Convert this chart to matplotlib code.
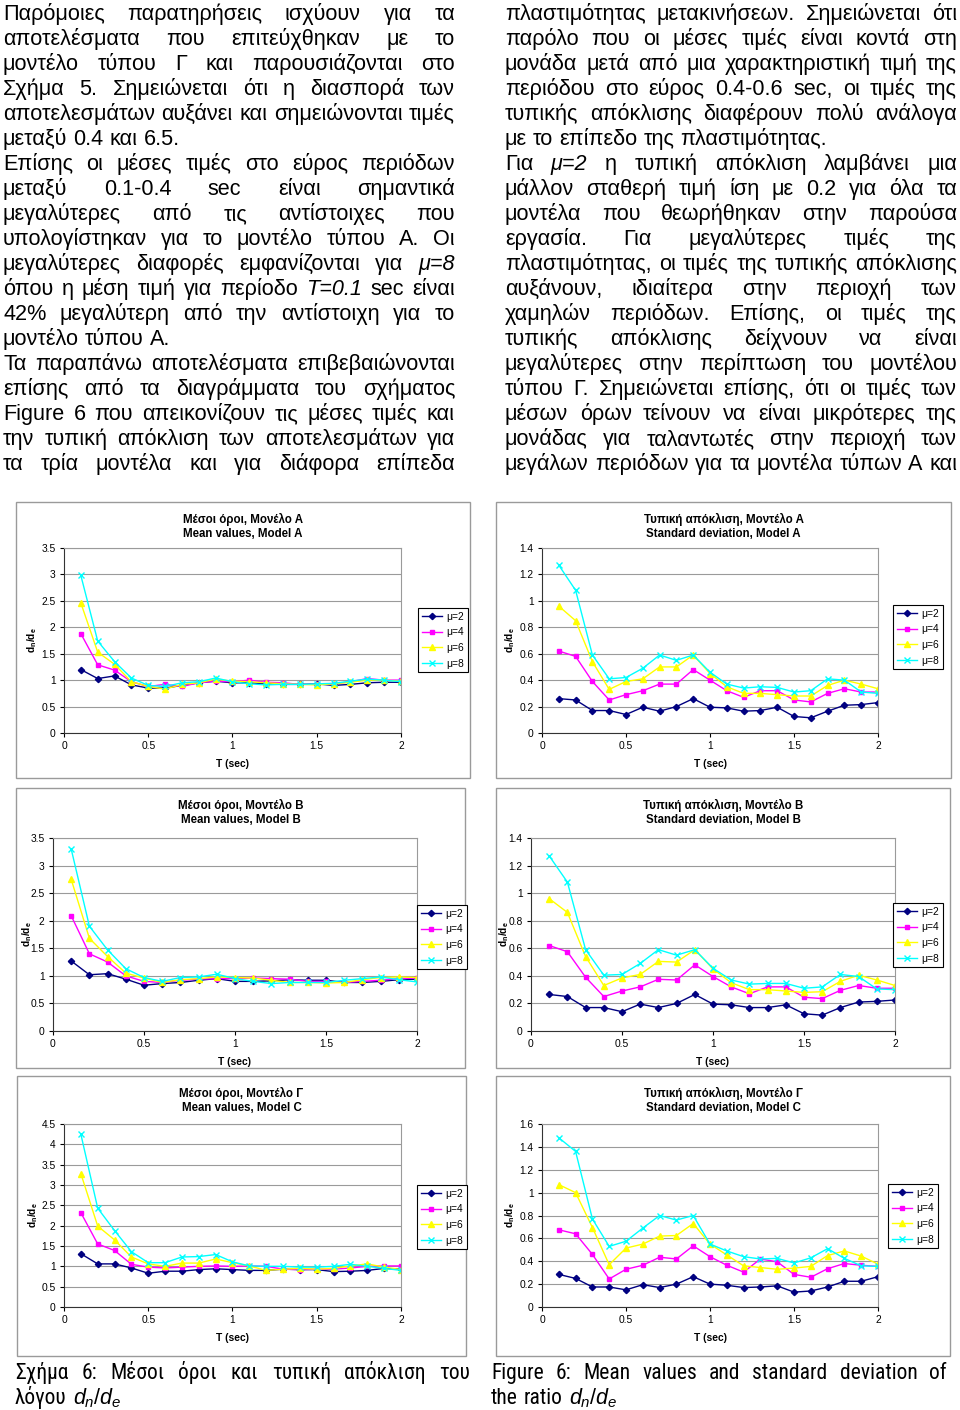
import matplotlib
matplotlib.use('Agg')
import matplotlib.pyplot as plt
from matplotlib.patches import Rectangle
from matplotlib.ticker import MultipleLocator, FuncFormatter
from matplotlib import font_manager

W, H = 960, 1410
plt.rcParams['font.family'] = ['Liberation Sans', 'DejaVu Sans']
plt.rcParams['mathtext.fontset'] = 'custom'
plt.rcParams['mathtext.rm'] = 'Liberation Sans'
plt.rcParams['mathtext.it'] = 'Liberation Sans:italic'
plt.rcParams['mathtext.bf'] = 'Liberation Sans:bold'

# ---- data ----
T = [0.1, 0.2, 0.3, 0.4, 0.5, 0.6, 0.7, 0.8, 0.9, 1.0,
     1.1, 1.2, 1.3, 1.4, 1.5, 1.6, 1.7, 1.8, 1.9, 2.0]
mu_labels = ['μ=2', 'μ=4', 'μ=6', 'μ=8']

meanA_2 = [1.20, 1.03, 1.08, 0.91, 0.85, 0.85, 0.90, 0.95, 0.98, 0.95, 0.95, 0.93, 0.92, 0.92, 0.93, 0.90, 0.92, 0.95, 0.96, 0.96]
meanA_4 = [1.88, 1.29, 1.19, 0.97, 0.88, 0.92, 0.88, 0.95, 0.98, 0.97, 1.00, 0.96, 0.95, 0.92, 0.92, 0.93, 0.97, 1.03, 1.00, 1.00]
meanA_6 = [2.46, 1.53, 1.30, 0.97, 0.88, 0.83, 0.92, 0.95, 1.02, 0.98, 0.97, 0.95, 0.93, 0.92, 0.91, 0.93, 0.96, 1.00, 1.00, 0.98]
meanA_8 = [2.98, 1.74, 1.35, 1.04, 0.90, 0.88, 0.95, 0.97, 1.04, 0.97, 0.93, 0.91, 0.92, 0.92, 0.93, 0.94, 0.98, 1.02, 1.00, 0.97]

stdA_2 = [0.26, 0.25, 0.17, 0.17, 0.14, 0.195, 0.165, 0.20, 0.26, 0.195, 0.19, 0.165, 0.17, 0.195, 0.125, 0.115, 0.165, 0.21, 0.215, 0.23]
stdA_4 = [0.62, 0.58, 0.39, 0.25, 0.29, 0.32, 0.37, 0.37, 0.48, 0.40, 0.32, 0.27, 0.32, 0.32, 0.25, 0.235, 0.30, 0.335, 0.31, 0.31]
stdA_6 = [0.96, 0.85, 0.54, 0.33, 0.39, 0.41, 0.50, 0.50, 0.59, 0.45, 0.35, 0.30, 0.30, 0.29, 0.28, 0.28, 0.36, 0.40, 0.37, 0.335]
stdA_8 = [1.27, 1.08, 0.59, 0.41, 0.42, 0.49, 0.59, 0.55, 0.59, 0.46, 0.37, 0.34, 0.35, 0.345, 0.31, 0.32, 0.41, 0.40, 0.31, 0.30]

meanB_2 = [1.27, 1.02, 1.04, 0.94, 0.83, 0.86, 0.88, 0.92, 0.95, 0.90, 0.90, 0.91, 0.93, 0.92, 0.92, 0.88, 0.88, 0.90, 0.93, 0.94]
meanB_4 = [2.09, 1.40, 1.25, 1.00, 0.90, 0.88, 0.92, 0.94, 0.95, 0.95, 0.96, 0.95, 0.94, 0.90, 0.90, 0.88, 0.90, 0.92, 0.95, 0.96]
meanB_6 = [2.75, 1.68, 1.35, 1.05, 0.96, 0.88, 0.93, 0.95, 0.98, 0.97, 0.96, 0.92, 0.88, 0.88, 0.87, 0.88, 0.93, 0.97, 0.98, 0.97]
meanB_8 = [3.30, 1.90, 1.47, 1.13, 0.97, 0.90, 0.97, 0.98, 1.03, 0.95, 0.90, 0.86, 0.88, 0.88, 0.88, 0.92, 0.95, 0.98, 0.93, 0.89]

stdB_2 = [0.265, 0.25, 0.17, 0.17, 0.14, 0.195, 0.17, 0.20, 0.265, 0.195, 0.19, 0.17, 0.17, 0.19, 0.125, 0.115, 0.17, 0.21, 0.215, 0.225]
stdB_4 = [0.62, 0.575, 0.39, 0.25, 0.29, 0.32, 0.375, 0.37, 0.48, 0.395, 0.32, 0.27, 0.32, 0.32, 0.245, 0.235, 0.295, 0.33, 0.31, 0.31]
stdB_6 = [0.96, 0.86, 0.54, 0.33, 0.385, 0.41, 0.505, 0.50, 0.59, 0.45, 0.35, 0.30, 0.30, 0.29, 0.28, 0.285, 0.36, 0.405, 0.37, 0.33]
stdB_8 = [1.27, 1.08, 0.59, 0.405, 0.41, 0.49, 0.59, 0.55, 0.59, 0.455, 0.37, 0.34, 0.345, 0.345, 0.31, 0.32, 0.41, 0.395, 0.305, 0.30]

meanC_2 = [1.31, 1.06, 1.06, 0.96, 0.83, 0.88, 0.88, 0.92, 0.94, 0.92, 0.90, 0.90, 0.93, 0.92, 0.92, 0.87, 0.88, 0.90, 0.95, 0.93]
meanC_4 = [2.32, 1.55, 1.39, 1.05, 0.98, 0.96, 0.98, 1.00, 1.01, 1.00, 1.01, 1.00, 0.93, 0.92, 0.93, 0.93, 0.96, 1.00, 1.01, 1.01]
meanC_6 = [3.28, 1.99, 1.65, 1.23, 1.06, 1.00, 1.08, 1.08, 1.18, 1.09, 1.01, 0.90, 0.93, 0.95, 0.93, 0.95, 1.01, 1.06, 0.98, 0.92]
meanC_8 = [4.25, 2.43, 1.88, 1.36, 1.09, 1.09, 1.23, 1.24, 1.29, 1.11, 1.01, 1.00, 1.00, 0.98, 0.98, 1.00, 1.05, 1.00, 0.95, 0.90]

stdC_2 = [0.285, 0.25, 0.175, 0.175, 0.15, 0.195, 0.17, 0.20, 0.265, 0.20, 0.19, 0.17, 0.175, 0.185, 0.13, 0.14, 0.175, 0.225, 0.225, 0.265]
stdC_4 = [0.675, 0.64, 0.46, 0.245, 0.33, 0.365, 0.435, 0.42, 0.535, 0.44, 0.365, 0.305, 0.42, 0.395, 0.285, 0.26, 0.335, 0.38, 0.365, 0.355]
stdC_6 = [1.07, 1.00, 0.695, 0.37, 0.515, 0.55, 0.62, 0.625, 0.73, 0.55, 0.455, 0.36, 0.345, 0.33, 0.34, 0.355, 0.45, 0.49, 0.445, 0.375]
stdC_8 = [1.48, 1.36, 0.77, 0.53, 0.575, 0.69, 0.80, 0.76, 0.80, 0.55, 0.49, 0.44, 0.42, 0.425, 0.385, 0.43, 0.51, 0.425, 0.36, 0.355]

# body text: (line, justified?)  words starting with "_" are italic
left_lines = [
    ("Παρόμοιες παρατηρήσεις ισχύουν για τα", True),
    ("αποτελέσματα που επιτεύχθηκαν με το", True),
    ("μοντέλο τύπου Γ και παρουσιάζονται στο", True),
    ("Σχήμα 5. Σημειώνεται ότι η διασπορά των", True),
    ("αποτελεσμάτων αυξάνει και σημειώνονται τιμές", True),
    ("μεταξύ 0.4 και 6.5.", False),
    ("Επίσης οι μέσες τιμές στο εύρος περιόδων", True),
    ("μεταξύ 0.1-0.4 sec είναι σημαντικά", True),
    ("μεγαλύτερες από τις αντίστοιχες που", True),
    ("υπολογίστηκαν για το μοντέλο τύπου Α. Οι", True),
    ("μεγαλύτερες διαφορές εμφανίζονται για _μ=8", True),
    ("όπου η μέση τιμή για περίοδο _T=0.1 sec είναι", True),
    ("42% μεγαλύτερη από την αντίστοιχη για το", True),
    ("μοντέλο τύπου Α.", False),
    ("Τα παραπάνω αποτελέσματα επιβεβαιώνονται", True),
    ("επίσης από τα διαγράμματα του σχήματος", True),
    ("Figure 6 που απεικονίζουν τις μέσες τιμές και", True),
    ("την τυπική απόκλιση των αποτελεσμάτων για", True),
    ("τα τρία μοντέλα και για διάφορα επίπεδα", True),
]
right_lines = [
    ("πλαστιμότητας μετακινήσεων. Σημειώνεται ότι", True),
    ("παρόλο που οι μέσες τιμές είναι κοντά στη", True),
    ("μονάδα μετά από μια χαρακτηριστική τιμή της", True),
    ("περιόδου στο εύρος 0.4-0.6 sec, οι τιμές της", True),
    ("τυπικής απόκλισης διαφέρουν πολύ ανάλογα", True),
    ("με το επίπεδο της πλαστιμότητας.", False),
    ("Για _μ=2 η τυπική απόκλιση λαμβάνει μια", True),
    ("μάλλον σταθερή τιμή ίση με 0.2 για όλα τα", True),
    ("μοντέλα που θεωρήθηκαν στην παρούσα", True),
    ("εργασία. Για μεγαλύτερες τιμές της", True),
    ("πλαστιμότητας, οι τιμές της τυπικής απόκλισης", True),
    ("αυξάνουν, ιδιαίτερα στην περιοχή των", True),
    ("χαμηλών περιόδων. Επίσης, οι τιμές της", True),
    ("τυπικής απόκλισης δείχνουν να είναι", True),
    ("μεγαλύτερες στην περίπτωση του μοντέλου", True),
    ("τύπου Γ. Σημειώνεται επίσης, ότι οι τιμές των", True),
    ("μέσων όρων τείνουν να είναι μικρότερες της", True),
    ("μονάδας για ταλαντωτές στην περιοχή των", True),
    ("μεγάλων περιόδων για τα μοντέλα τύπων Α και", True),
]
caption_left = [("Σχήμα 6: Μέσοι όροι και τυπική απόκλιση του", True),
                ("λόγου $d_n/d_e$", False)]
caption_right = [("Figure 6: Mean values and standard deviation of", True),
                 ("the ratio $d_n/d_e$", False)]

fig = plt.figure(figsize=(W / 100, H / 100), dpi=100)
fig.patch.set_facecolor('white')
renderer = fig.canvas.get_renderer()

# narrow face for the captions, if there is one
names = {f.name for f in font_manager.fontManager.ttflist}
cap_family = 'Liberation Sans'
cap_stretch = 'normal'
for cand in ['Liberation Sans Narrow', 'DejaVu Sans Condensed', 'Roboto Condensed', 'Open Sans Condensed']:
    if cand in names:
        cap_family = cand
        break
else:
    if any(f.name == 'DejaVu Sans' and f.stretch == 'condensed' for f in font_manager.fontManager.ttflist):
        cap_family, cap_stretch = 'DejaVu Sans', 'condensed'


def fx(x):
    return x / W


def fy(y):
    return 1 - y / H


def put_line(x0, x1, ybase, line, justify, size=15.6, **kw):
    arts = []
    for w in line.split():
        style = 'normal'
        if w.startswith('_'):
            w, style = w[1:], 'italic'
        arts.append(fig.text(fx(x0), fy(ybase), w, fontsize=size, style=style,
                             ha='left', va='baseline', **kw))
    widths = [a.get_window_extent(renderer).width for a in arts]
    space = 0.278 * size * 100 / 72
    if justify and len(arts) > 1:
        gap = max((x1 - x0 - sum(widths)) / (len(arts) - 1), 0.6 * space)
    else:
        gap = space
    x = x0
    for a, w in zip(arts, widths):
        a.set_x(fx(x))
        x += w + gap


for i, (ln, j) in enumerate(left_lines):
    put_line(3, 455, 20 + 25 * i, ln, j)
for i, (ln, j) in enumerate(right_lines):
    put_line(505, 957, 20 + 25 * i, ln, j)

for i, (ln, j) in enumerate(caption_left):
    put_line(15, 470, 1379 + 25 * i, ln, j, size=15.5, family=cap_family, stretch=cap_stretch)
for i, (ln, j) in enumerate(caption_right):
    put_line(491, 947, 1379 + 25 * i, ln, j, size=15.5, family=cap_family, stretch=cap_stretch)

# ---- charts ----
styles = [dict(color='#000080', marker='D', ms=3.2),
          dict(color='#FF00FF', marker='s', ms=3.4),
          dict(color='#FFFF00', marker='^', ms=4.0),
          dict(color='#00FFFF', marker='x', ms=4.2)]

charts = [
    dict(box=(16, 502, 470, 778), ax=(64, 548, 401, 733), leg=(418, 608), yoff=32,
         title=('Μέσοι όροι, Μονέλο Α', 'Mean values, Model A'), ymax=3.5, step=0.5,
         series=[meanA_2, meanA_4, meanA_6, meanA_8]),
    dict(box=(496, 502, 951, 778), ax=(542, 548, 878, 733), leg=(893, 605), yoff=32,
         title=('Τυπική απόκλιση, Μοντέλο Α', 'Standard deviation, Model A'), ymax=1.4, step=0.2,
         series=[stdA_2, stdA_4, stdA_6, stdA_8]),
    dict(box=(16, 788, 465, 1068), ax=(53, 838, 417, 1031), leg=(417, 905), yoff=26,
         title=('Μέσοι όροι, Μοντέλο Β', 'Mean values, Model B'), ymax=3.5, step=0.5,
         series=[meanB_2, meanB_4, meanB_6, meanB_8]),
    dict(box=(496, 788, 950, 1068), ax=(531, 838, 895, 1031), leg=(893, 903), yoff=27,
         title=('Τυπική απόκλιση, Μοντέλο Β', 'Standard deviation, Model B'), ymax=1.4, step=0.2,
         series=[stdB_2, stdB_4, stdB_6, stdB_8]),
    dict(box=(17, 1076, 466, 1356), ax=(64, 1124, 401, 1307), leg=(417, 1185), yoff=31,
         title=('Μέσοι όροι, Μοντέλο Γ', 'Mean values, Model C'), ymax=4.5, step=0.5,
         series=[meanC_2, meanC_4, meanC_6, meanC_8]),
    dict(box=(496, 1076, 950, 1356), ax=(542, 1124, 878, 1307), leg=(888, 1184), yoff=32,
         title=('Τυπική απόκλιση, Μοντέλο Γ', 'Standard deviation, Model C'), ymax=1.6, step=0.2,
         series=[stdC_2, stdC_4, stdC_6, stdC_8]),
]

fmt = FuncFormatter(lambda v, _: f'{v:g}')

for c in charts:
    bx0, by0, bx1, by1 = c['box']
    fig.add_artist(Rectangle((fx(bx0), fy(by1)), (bx1 - bx0) / W, (by1 - by0) / H,
                             transform=fig.transFigure, fill=False, ec='#9a9a9a', lw=1))
    ax0, ay0, ax1, ay1 = c['ax']
    ax = fig.add_axes([fx(ax0), fy(ay1), (ax1 - ax0) / W, (ay1 - ay0) / H])
    handles = []
    for vals, st in zip(c['series'], styles):
        h, = ax.plot(T, vals, color=st['color'], marker=st['marker'], ms=st['ms'],
                     mec=st['color'], mfc=st['color'], lw=1, mew=1)
        handles.append(h)
    ax.set_xlim(0, 2)
    ax.set_ylim(0, c['ymax'])
    ax.xaxis.set_major_locator(MultipleLocator(0.5))
    ax.yaxis.set_major_locator(MultipleLocator(c['step']))
    ax.xaxis.set_major_formatter(fmt)
    ax.yaxis.set_major_formatter(fmt)
    ax.yaxis.grid(True, color='#9a9a9a', lw=0.8)
    ax.set_axisbelow(True)
    ax.tick_params(direction='out', length=3, width=0.8, labelsize=7.4, pad=3, colors='black')
    for s in ('top', 'right'):
        ax.spines[s].set_color('#9a9a9a')
    for s in ('left', 'bottom'):
        ax.spines[s].set_color('#333333')
        ax.spines[s].set_linewidth(0.8)

    cx = (bx0 + bx1) / 2
    fig.text(fx(cx), fy(by0 + 17), c['title'][0], fontsize=8.3, weight='bold', ha='center', va='center')
    fig.text(fx(cx), fy(by0 + 32), c['title'][1], fontsize=8.3, weight='bold', ha='center', va='center')
    fig.text(fx((ax0 + ax1) / 2), fy(ay1 + 31), 'T (sec)', fontsize=7.4, weight='bold',
             ha='center', va='center')
    fig.text(fx(ax0 - c['yoff']), fy((ay0 + ay1) / 2), r'$\mathbf{d_n/d_e}$', fontsize=7.4,
             rotation=90, ha='center', va='center')

    lg = fig.legend(handles, mu_labels, loc='upper left', bbox_to_anchor=(fx(c['leg'][0]), fy(c['leg'][1])),
                    bbox_transform=fig.transFigure, fancybox=False, edgecolor='black', framealpha=1,
                    fontsize=7.4, handlelength=2.0, handletextpad=0.4, labelspacing=0.55,
                    borderpad=0.35, borderaxespad=0)
    lg.get_frame().set_linewidth(0.8)

fig.savefig('out.png', dpi=100)
